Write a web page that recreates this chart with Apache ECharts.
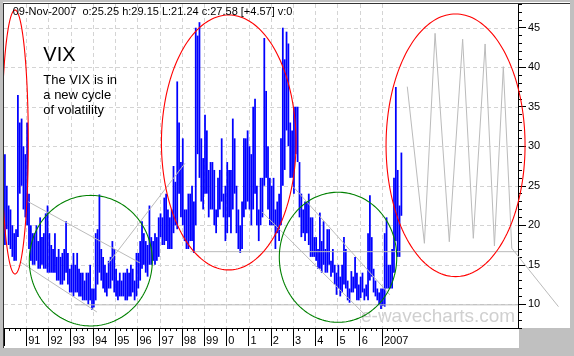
<!DOCTYPE html>
<html><head><meta charset="utf-8">
<script src="https://cdn.jsdelivr.net/npm/echarts@6/dist/echarts.min.js"></script>
<style>html,body{margin:0;padding:0;background:#c0c0c0;}#c{width:574px;height:356px;}</style>
</head><body><div id="c"></div>
<script>
// ---- data (monthly VIX high / low, Jan 1990 .. Nov 2007) ----
const startYear = 1990;
const vixLow = [
 17.5,19.5,17.5,17.0,16.0,15.5,15.5,18.5,24.0,25.0,22.0,21.0, // 1990
 20.0,17.0,15.5,15.0,15.0,15.5,14.5,14.5,15.0,14.5,14.5,14.0, // 1991
 14.0,14.0,14.0,14.0,13.0,13.0,12.5,12.5,13.0,14.0,12.5,11.5, // 1992
 11.5,11.0,11.5,11.5,11.0,11.0,10.5,10.5,10.5,10.0,10.5,9.3,  // 1993
 9.6,10.5,12.5,14.0,13.0,12.0,11.5,11.0,12.0,12.0,13.0,11.5,  // 1994
 11.0,10.5,11.0,11.0,11.0,10.5,10.5,11.0,11.0,11.5,10.5,11.0, // 1995
 12.0,13.0,14.5,15.0,14.0,13.5,15.0,15.0,15.5,15.0,15.5,16.0, // 1996
 18.5,17.5,17.5,18.0,17.0,17.0,17.0,19.0,20.0,19.5,24.0,21.0, // 1997
 20.0,18.0,17.0,17.0,18.0,18.0,16.5,20.0,29.0,26.0,23.0,22.0, // 1998
 24.0,24.0,21.0,22.0,22.0,20.0,19.0,21.0,22.0,23.0,21.0,18.0, // 1999
 19.0,21.0,19.0,22.0,24.0,19.0,17.0,16.5,17.0,21.0,22.0,23.0, // 2000
 22.0,20.0,22.0,24.0,20.0,18.0,20.0,21.0,25.0,26.0,22.0,20.0, // 2001
 20.0,20.0,17.0,19.0,18.0,20.0,25.0,27.0,32.0,30.0,26.0,26.0, // 2002
 24.0,29.0,28.0,21.0,18.5,19.0,18.0,19.0,17.5,16.0,16.0,16.0, // 2003
 15.5,14.5,14.5,14.0,15.0,14.0,14.0,15.0,13.5,14.0,12.5,11.2, // 2004
 12.0,11.0,11.5,12.5,12.0,10.5,10.2,11.5,11.5,12.0,10.5,10.5, // 2005
 10.8,11.5,10.5,11.0,10.5,13.0,13.5,11.5,11.0,10.5,9.9,9.4,   // 2006
 9.8,9.7,12.0,12.0,12.0,12.0,14.0,18.0,16.0,16.0,21.2         // 2007
];
const vixHigh = [
 29.0,25.0,22.5,22.0,20.0,19.0,19.5,36.5,33.0,33.5,30.0,29.0, // 1990
 33.0,24.0,20.0,19.0,19.0,20.0,18.0,21.0,18.5,19.0,21.5,22.5, // 1991
 19.0,17.5,17.0,19.0,16.0,17.0,16.0,16.5,17.0,20.5,16.5,14.5, // 1992
 15.0,16.5,15.0,16.5,14.5,14.0,14.0,13.0,14.0,14.0,15.0,12.0, // 1993
 12.0,19.0,19.5,23.9,17.0,16.0,15.0,14.0,15.5,16.0,18.0,17.0, // 1994
 14.5,13.0,14.0,13.0,14.0,14.0,14.5,14.0,15.0,14.5,13.0,16.5, // 1995
 16.5,18.0,20.5,19.0,18.0,17.5,22.5,18.5,18.0,19.0,18.5,21.0, // 1996
 21.5,21.0,23.5,24.0,22.0,21.0,22.0,27.5,25.5,38.2,33.0,28.0, // 1997
 31.0,22.0,22.0,24.0,24.0,25.0,23.0,45.0,44.0,45.7,31.0,28.5, // 1998
 34.0,32.0,27.0,28.0,28.0,27.0,22.0,26.0,27.0,31.0,24.0,25.0, // 1999
 28.0,27.0,27.0,33.5,31.0,25.0,22.0,20.0,23.0,31.0,31.0,32.0, // 2000
 30.0,29.0,35.0,36.0,25.0,22.0,26.0,26.0,43.7,37.0,30.0,26.0, // 2001
 25.0,26.0,22.0,23.0,24.0,31.0,45.0,41.0,44.5,43.0,33.0,32.0, // 2002
 35.0,35.0,35.0,28.0,24.0,22.0,23.0,23.0,24.0,21.0,21.0,18.5, // 2003
 18.5,17.0,21.6,18.0,20.5,17.0,19.5,19.5,15.5,17.0,15.0,14.0, // 2004
 15.0,13.5,15.0,18.5,17.0,13.0,12.0,14.2,13.5,16.0,14.0,12.5, // 2005
 13.5,14.0,12.0,12.5,19.0,23.8,18.5,14.5,13.0,12.0,11.5,12.0, // 2006
 12.0,19.0,21.0,15.0,15.0,17.0,26.0,37.5,27.0,22.5,29.2       // 2007
];
// x-axis labels
const yearTicks = [1990,1991,1992,1993,1994,1995,1996,1997,1998,1999,2000,2001,2002,2003,2004,2005,2006,2007];
const yearLabels = [1991,1992,1993,1994,1995,1996,1997,1998,1999,2000,2001,2002,2003,2004,2005,2006,2007];
const yearLabelText = ['91','92','93','94','95','96','97','98','99','0','1','2','3','4','5','6','2007'];
// y-axis labels
const valueTicks = [10,15,20,25,30,35,40,45];
// trend / channel lines (year, value)
const trendLines = [
 [[1991.09,22.98],[1996.12,15.23]],
 [[1990.72,15.39],[1994.18,9.02]],
 [[1994.69,15.19],[1998.14,27.84]],
 [[1993.2,9.93],[2013.12,9.93]],
 [[1998.38,16.66],[2013.12,16.66]],
 [[2003.01,24.88],[2007.36,11.18]],
 [[2001.61,21.68],[2006.32,8.43]]
];
// projected zig-zag cycle
const projection = [[2008.14,37.54],[2008.91,17.72],[2009.39,44.29],[2010.03,17.92],[2010.63,43.54],
 [2011.11,18.35],[2011.64,42.94],[2012.06,17.38],[2012.46,40.07],[2012.84,17.09],[2014.94,9.70]];
// cycle ellipses: centre year, centre value, half-width (years), half-height (value), kind
const ellipseCx = [1990.495, 2000.108, 2010.311, 1993.905, 2005.025];
const ellipseCy = [30.54, 30.48, 30.12, 15.52, 15.95];
const ellipseRx = [0.598, 3.027, 3.126, 2.767, 2.641];
const ellipseRy = [16.70, 16.13, 16.62, 8.26, 8.23];
const ellipseKind = ['high','high','high','low','low'];

// ---- build ----
const quarterTicks = [];
for (let y = 1990; y <= 2007; y++) for (let q = 0; q < 4; q++) quarterTicks.push(y + q / 4);
const bars = vixLow.map((lo, i) => [startYear + (i + 0.5) / 12, lo, vixHigh[i]]);
const ellipses = ellipseCx.map((c, i) => [c, ellipseCy[i], ellipseRx[i], ellipseRy[i], ellipseKind[i] === 'high' ? 0 : 1]);
const XMIN = 1990, XMAX = 2013.12, YMIN = 7, YMAX = 48;
const FONT = 'Arial, "Liberation Sans", sans-serif';
const GRAY = '#bbbbbb';

const chart = echarts.init(document.getElementById('c'), null, {renderer: 'canvas'});
const gridBox = {left: 4, right: 56, top: 4, bottom: 28};
const option = {
  animation: false,
  backgroundColor: '#c0c0c0',
  grid: [Object.assign({}, gridBox), Object.assign({}, gridBox)],
  xAxis: [
    {type: 'value', gridIndex: 0, min: XMIN, max: XMAX, position: 'bottom',
     axisLine: {show: true, lineStyle: {color: '#000', width: 1}},
     axisTick: {show: true, length: 3, customValues: quarterTicks, lineStyle: {color: '#000'}},
     axisLabel: {show: false}, splitLine: {show: false}},
    {type: 'value', gridIndex: 1, min: XMIN, max: XMAX, position: 'bottom',
     axisLine: {show: false},
     axisTick: {show: true, length: 18, customValues: yearTicks, lineStyle: {color: '#000'}},
     axisLabel: {show: true, customValues: yearLabels, align: 'left', margin: 7, padding: [0, 0, 0, 2],
       fontSize: 11, fontFamily: FONT, color: '#000',
       formatter: v => { const k = yearLabels.indexOf(Math.round(v)); return k < 0 ? '' : yearLabelText[k]; }},
     splitLine: {show: false}}
  ],
  yAxis: [
    {type: 'value', gridIndex: 0, min: YMIN, max: YMAX, interval: 1, position: 'right',
     axisLine: {show: true, lineStyle: {color: '#000', width: 1}},
     axisTick: {show: true, length: 4, lineStyle: {color: '#000'}},
     axisLabel: {show: false}, splitLine: {show: false}},
    {type: 'value', gridIndex: 1, min: YMIN, max: YMAX, position: 'right',
     axisLine: {show: false},
     axisTick: {show: true, length: 8, customValues: valueTicks, lineStyle: {color: '#000'}},
     axisLabel: {show: true, customValues: valueTicks, margin: 10, fontSize: 11, fontFamily: FONT, color: '#000'},
     splitLine: {show: false}}
  ],
  graphic: [
    {type: 'rect', shape: {x: 2, y: 2, width: 517, height: 346}, style: {fill: '#fff'}, z: -10, silent: true},
    {type: 'rect', shape: {x: 518, y: 2, width: 52, height: 326}, style: {fill: '#fff'}, z: -10, silent: true},
    {type: 'rect', shape: {x: 0, y: 0, width: 3, height: 356}, style: {fill: '#c0c0c0'}, z: 100, silent: true},
    {type: 'rect', shape: {x: 3, y: 3, width: 567, height: 1}, style: {fill: '#333'}, z: 101, silent: true},
    {type: 'rect', shape: {x: 3, y: 3, width: 1, height: 345}, style: {fill: '#333'}, z: 101, silent: true},
    {type: 'text', x: 361, y: 317, z: 1, silent: true,
     style: {text: 'e-wavecharts.com', font: '19px ' + FONT, fill: '#d0d0d0', textVerticalAlign: 'middle', verticalAlign: 'middle'}},
    {type: 'text', x: 12.7, y: 12.2, z: 50, silent: true,
     style: {text: '09-Nov-2007  o:25.25 h:29.15 L:21.24 c:27.58 [+4.57] v:0', font: '11px ' + FONT, fill: '#000', textVerticalAlign: 'middle', verticalAlign: 'middle'}},
    {type: 'text', x: 43.3, y: 55.8, z: 50, silent: true,
     style: {text: 'VIX', font: '20px ' + FONT, fill: '#000', textVerticalAlign: 'middle', verticalAlign: 'middle'}},
    {type: 'text', x: 43.3, y: 80.5, z: 50, silent: true,
     style: {text: 'The VIX is in', font: '13px ' + FONT, fill: '#000', textVerticalAlign: 'middle', verticalAlign: 'middle'}},
    {type: 'text', x: 43.3, y: 95.5, z: 50, silent: true,
     style: {text: 'a new cycle', font: '13px ' + FONT, fill: '#000', textVerticalAlign: 'middle', verticalAlign: 'middle'}},
    {type: 'text', x: 43.3, y: 110.5, z: 50, silent: true,
     style: {text: 'of volatility', font: '13px ' + FONT, fill: '#000', textVerticalAlign: 'middle', verticalAlign: 'middle'}}
  ],
  series: [
    // vertical grid lines
    {type: 'custom', xAxisIndex: 0, yAxisIndex: 0, z: 1, silent: true,
     data: yearLabels.map(y => [y, YMIN]), encode: {x: 0, y: 1},
     renderItem: (p, api) => {
       const x = Math.round(api.coord([api.value(0), YMIN])[0]) + 0.5;
       const cs = p.coordSys;
       return {type: 'line', shape: {x1: x, y1: cs.y, x2: x, y2: cs.y + cs.height},
               style: {stroke: '#d4d4d4', lineWidth: 1, lineDash: [4, 3]}};
     }},
    // horizontal grid lines
    {type: 'custom', xAxisIndex: 0, yAxisIndex: 0, z: 1, silent: true,
     data: valueTicks.map(v => [XMIN, v]), encode: {x: 0, y: 1},
     renderItem: (p, api) => {
       const y = Math.round(api.coord([XMIN, api.value(1)])[1]) + 0.5;
       const cs = p.coordSys;
       return {type: 'line', shape: {x1: cs.x, y1: y, x2: cs.x + cs.width, y2: y},
               style: {stroke: '#d4d4d4', lineWidth: 1, lineDash: [4, 3]}};
     }},
    // VIX high-low bars
    {type: 'custom', xAxisIndex: 0, yAxisIndex: 0, z: 3, silent: true,
     data: bars, encode: {x: 0, y: [1, 2]},
     renderItem: (p, api) => {
       const top = api.coord([api.value(0), api.value(2)]);
       const bot = api.coord([api.value(0), api.value(1)]);
       const w = api.size([1 / 12, 0])[0] * 0.95;
       return {type: 'rect', shape: {x: top[0] - w / 2, y: top[1], width: w, height: bot[1] - top[1]},
               style: {fill: '#0000ff'}};
     }},
    // trend lines
    ...trendLines.map(seg => ({type: 'line', xAxisIndex: 0, yAxisIndex: 0, z: 4, silent: true,
      data: seg, symbol: 'none', showSymbol: false, lineStyle: {color: GRAY, width: 1}})),
    // projected cycle (drawn unclipped, runs past the axis)
    {type: 'custom', xAxisIndex: 0, yAxisIndex: 0, z: 4, silent: true, clip: false,
     data: [projection[0]], encode: {x: 0, y: 1},
     renderItem: (p, api) => ({type: 'polyline', shape: {points: projection.map(pt => api.coord(pt))},
       style: {stroke: GRAY, fill: null, lineWidth: 1}})},
    // cycle ellipses
    {type: 'custom', xAxisIndex: 0, yAxisIndex: 0, z: 6, silent: true, clip: false,
     data: ellipses, encode: {x: 0, y: 1},
     renderItem: (p, api) => {
       const c = api.coord([api.value(0), api.value(1)]);
       const s = api.size([api.value(2), api.value(3)]);
       const pts = [];
       for (let i = 0; i <= 180; i++) {
         const t = i / 180 * Math.PI * 2;
         pts.push([c[0] + s[0] * Math.cos(t), c[1] + s[1] * Math.sin(t)]);
       }
       return {type: 'polyline', shape: {points: pts},
               style: {stroke: api.value(4) === 0 ? '#ff0000' : '#008000', fill: null, lineWidth: 1.1}};
     }}
  ]
};
chart.setOption(option);
</script></body></html>
